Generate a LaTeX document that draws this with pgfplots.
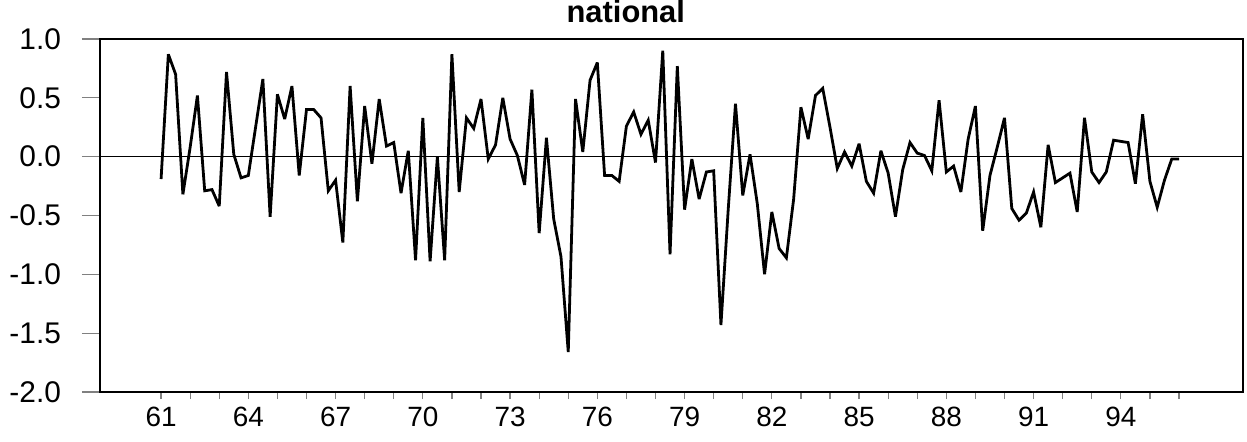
\documentclass[border=0pt]{standalone}
\usepackage{fontspec}
\setmainfont{Liberation Sans}
\usepackage{pgfplots}
\usepackage{pgfplotstable}
\pgfplotsset{compat=1.18}

% quarterly series, 1961:1 - 1996:1
\pgfplotstableread{
t v
61.00 -0.19
61.25 0.87
61.50 0.70
61.75 -0.32
62.00 0.08
62.25 0.52
62.50 -0.29
62.75 -0.28
63.00 -0.42
63.25 0.72
63.50 0.02
63.75 -0.18
64.00 -0.16
64.25 0.25
64.50 0.66
64.75 -0.51
65.00 0.53
65.25 0.32
65.50 0.60
65.75 -0.16
66.00 0.40
66.25 0.40
66.50 0.33
66.75 -0.29
67.00 -0.20
67.25 -0.73
67.50 0.60
67.75 -0.38
68.00 0.43
68.25 -0.06
68.50 0.49
68.75 0.09
69.00 0.12
69.25 -0.31
69.50 0.05
69.75 -0.88
70.00 0.33
70.25 -0.89
70.50 0.00
70.75 -0.88
71.00 0.87
71.25 -0.30
71.50 0.33
71.75 0.24
72.00 0.49
72.25 -0.02
72.50 0.10
72.75 0.50
73.00 0.15
73.25 0.01
73.50 -0.24
73.75 0.57
74.00 -0.65
74.25 0.16
74.50 -0.53
74.75 -0.85
75.00 -1.66
75.25 0.49
75.50 0.04
75.75 0.65
76.00 0.80
76.25 -0.16
76.50 -0.16
76.75 -0.21
77.00 0.26
77.25 0.38
77.50 0.19
77.75 0.31
78.00 -0.05
78.25 0.90
78.50 -0.83
78.75 0.77
79.00 -0.45
79.25 -0.02
79.50 -0.36
79.75 -0.13
80.00 -0.12
80.25 -1.43
80.50 -0.45
80.75 0.45
81.00 -0.33
81.25 0.02
81.50 -0.40
81.75 -1.00
82.00 -0.47
82.25 -0.78
82.50 -0.86
82.75 -0.36
83.00 0.42
83.25 0.15
83.50 0.52
83.75 0.58
84.00 0.25
84.25 -0.10
84.50 0.04
84.75 -0.08
85.00 0.11
85.25 -0.21
85.50 -0.31
85.75 0.05
86.00 -0.14
86.25 -0.51
86.50 -0.11
86.75 0.12
87.00 0.03
87.25 0.01
87.50 -0.12
87.75 0.48
88.00 -0.13
88.25 -0.08
88.50 -0.30
88.75 0.15
89.00 0.43
89.25 -0.63
89.50 -0.16
89.75 0.08
90.00 0.33
90.25 -0.44
90.50 -0.54
90.75 -0.48
91.00 -0.30
91.25 -0.60
91.50 0.10
91.75 -0.22
92.00 -0.18
92.25 -0.14
92.50 -0.47
92.75 0.33
93.00 -0.13
93.25 -0.22
93.50 -0.13
93.75 0.14
94.00 0.13
94.25 0.12
94.50 -0.23
94.75 0.36
95.00 -0.21
95.25 -0.43
95.50 -0.20
95.75 -0.02
96.00 -0.02
}\national

\begin{document}
\begin{tikzpicture}
\begin{axis}[
    name=ax,
    scale only axis,
    width=571.5bp, height=176.5bp,
    xmin=58.9, xmax=98.2,
    ymin=-2, ymax=1,
    axis line style={line width=0.8pt},
    xtick={61,64,...,94},
    minor xtick={61,...,96},
    ytick={-2,-1.5,...,1},
    tick align=outside,
    xtick pos=bottom, ytick pos=left,
    major tick length=9bp,
    minor tick length=3.5bp,
    major x tick style={draw=none},
    minor x tick style={line width=0.6pt},
    ytick style={line width=0.6pt},
    x tick label style={font=\fontsize{14}{16}\selectfont, /pgf/number format/1000 sep={}, yshift=5bp},
    y tick label style={font=\fontsize{15}{17}\selectfont, xshift=-7bp,
        /pgf/number format/.cd, fixed, fixed zerofill, precision=1},
    /pgf/number format/assume math mode=true,
    title={national},
    every axis title/.style={at={(0.46,1)}, anchor=base, yshift=8.5bp,
        font=\bfseries\fontsize{15.5}{17}\selectfont},
]
\draw[line width=0.6pt] (axis cs:58.9,0) -- (axis cs:98.2,0);
\addplot[black, line width=1.4pt, line join=miter, miter limit=4] table[x=t, y=v] {\national};
\end{axis}
\pgfresetboundingbox
\path ([shift={(-50bp,-25bp)}]ax.south west) rectangle ([shift={(2bp,19.5bp)}]ax.north east);
\end{tikzpicture}
\end{document}
